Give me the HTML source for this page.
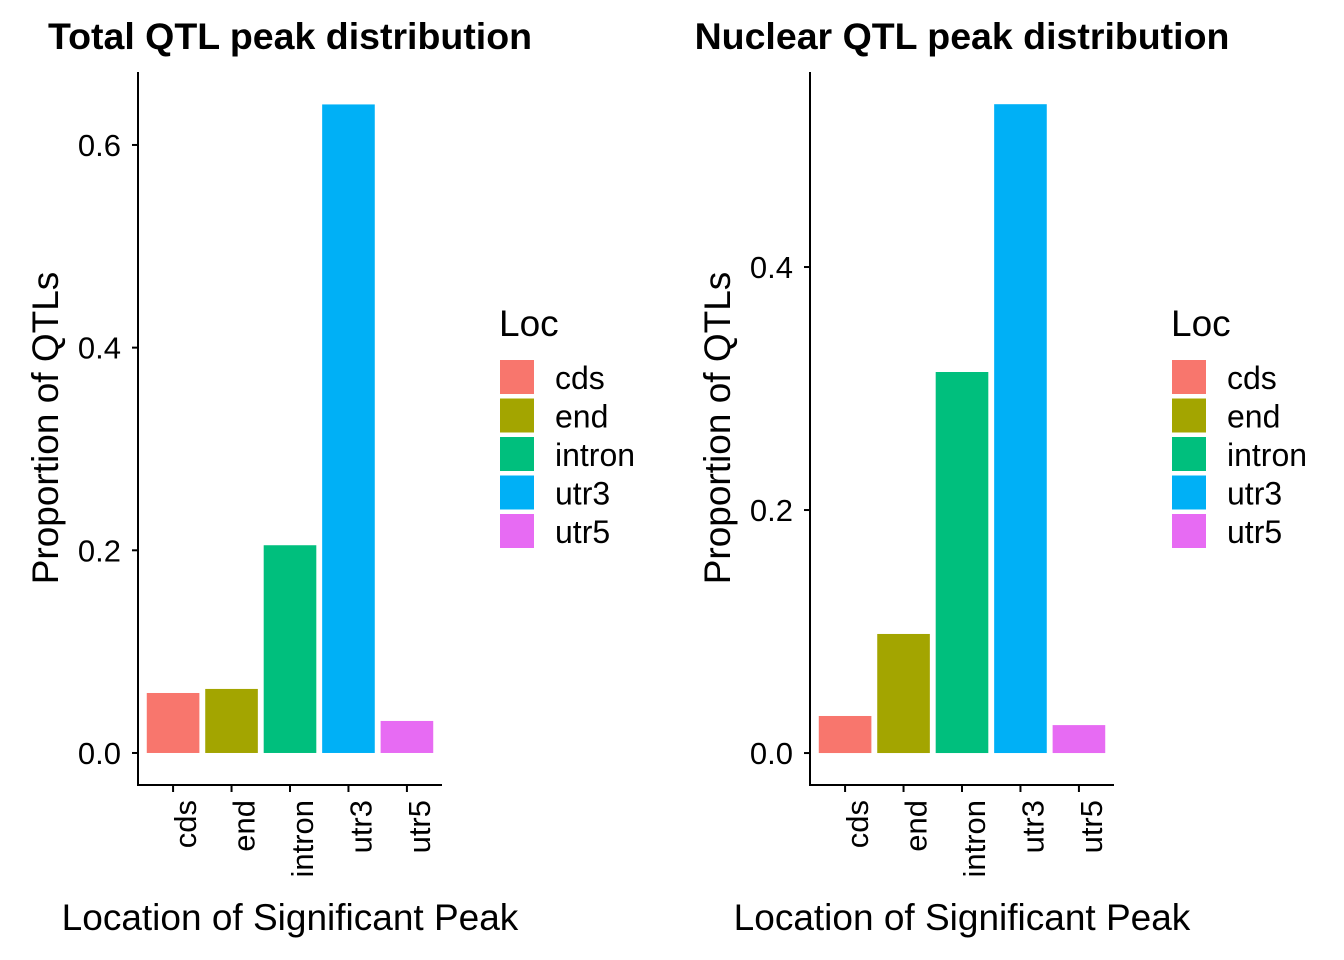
<!DOCTYPE html>
<html><head><meta charset="utf-8"><style>
html,body{margin:0;padding:0;background:#fff;}
svg{display:block;font-family:"Liberation Sans",Arial,sans-serif;}
</style></head><body>
<svg id="chart" width="1344" height="960" viewBox="0 0 1344 960" xmlns="http://www.w3.org/2000/svg"></svg>
<script>
const categories = ["cds","end","intron","utr3","utr5"];
const colors = ["#F8766D","#A3A500","#00BF7D","#00B0F6","#E76BF3"];
const totalValues = [0.0592,0.0632,0.205,0.640,0.0316];
const nuclearValues = [0.0305,0.098,0.3136,0.534,0.023];
const totalTicks = [0.0,0.2,0.4,0.6];
const nuclearTicks = [0.0,0.2,0.4];
const totalTickLabels = ["0.0","0.2","0.4","0.6"];
const nuclearTickLabels = ["0.0","0.2","0.4"];

const NS="http://www.w3.org/2000/svg";
const svg=document.getElementById('chart');
function mk(tag,attrs,parent,text){const e=document.createElementNS(NS,tag);for(const k in attrs)e.setAttribute(k,attrs[k]);if(text!==undefined)e.textContent=text;(parent||svg).appendChild(e);return e;}

function panel(ox,title,values,ticks,tickLabels,yMin,yMax,key){
  const g=mk('g',{});
  
  
  const left=ox+138,right=ox+442,top=72,bottom=785;
  const y=v=>bottom-(v-yMin)/(yMax-yMin)*(bottom-top);
  const band=(right-left)/(categories.length+0.2);
  const x=i=>left+band*(i+0.6);
  const t=mk('text',{x:ox+290,y:49,'text-anchor':'middle','font-size':'37.5','font-weight':'bold'},g,title);
  
  
  values.forEach((v,i)=>{
    const r=mk('rect',{x:x(i)-band*0.45,y:y(v),width:band*0.9,height:y(0)-y(v),fill:colors[i]},g);
    
    
  });
  const ya=mk('line',{x1:left,y1:top,x2:left,y2:bottom+1,stroke:'#000','stroke-width':2},g);
  
  
  const xa=mk('line',{x1:left-1,y1:bottom,x2:right,y2:bottom,stroke:'#000','stroke-width':2},g);
  
  
  ticks.forEach((tv,i)=>{
    mk('line',{x1:left-6,y1:y(tv),x2:left,y2:y(tv),stroke:'#000','stroke-width':2},g);
    const l=mk('text',{x:left-17,y:y(tv)+11,'text-anchor':'end','font-size':'31',fill:'#000'},g,tickLabels[i]);
    
    
  });
  categories.forEach((c,i)=>{
    mk('line',{x1:x(i),y1:bottom,x2:x(i),y2:bottom+7,stroke:'#000','stroke-width':2},g);
    const l=mk('text',{x:0,y:0,'text-anchor':'end','font-size':'31',transform:`translate(${x(i)+23},${bottom+15}) rotate(-90)`},g,c);
    
    
  });
  const yt=mk('text',{x:0,y:0,'text-anchor':'middle','font-size':'37',transform:`translate(${ox+58},428) rotate(-90)`},g,'Proportion of QTLs');
  
  
  const xt=mk('text',{x:ox+290,y:930,'text-anchor':'middle','font-size':'37'},g,'Location of Significant Peak');
  
  
  const lg=mk('g',{},g);
  
  
  mk('text',{x:ox+499,y:336,'font-size':'37'},lg,'Loc');
  categories.forEach((c,i)=>{
    const yy=360+i*38.5;
    const r=mk('rect',{x:ox+500,y:yy,width:34,height:34,fill:colors[i]},lg);
    
    
    const l=mk('text',{x:ox+555,y:yy+29,'font-size':'32'},lg,c);
    
    
  });
}
panel(0,'Total QTL peak distribution',totalValues,totalTicks,totalTickLabels,-0.0316,0.672,'total');
panel(672,'Nuclear QTL peak distribution',nuclearValues,nuclearTicks,nuclearTickLabels,-0.0263,0.5605,'nuclear');
</script>
</body></html>
